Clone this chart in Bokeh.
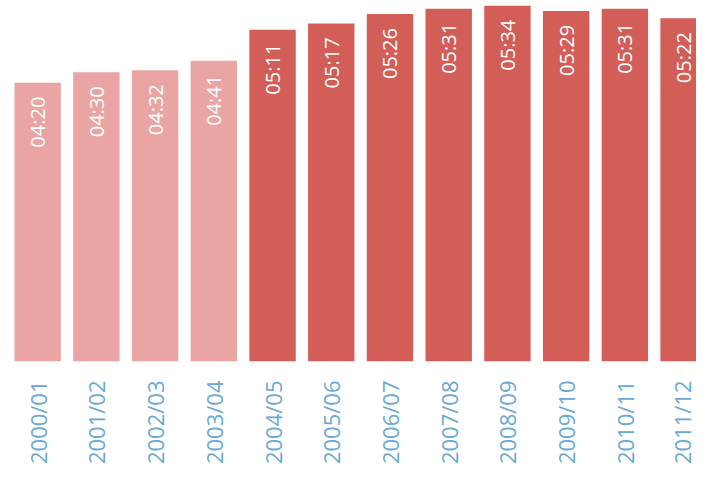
from bokeh.plotting import figure
from bokeh.models import ColumnDataSource, Range1d, FixedTicker
from bokeh.transform import factor_cmap
from bokeh.core.properties import value
from bokeh.embed import file_html
from bokeh.resources import INLINE
import math

seasons = ["2000/01", "2001/02", "2002/03", "2003/04", "2004/05", "2005/06",
           "2006/07", "2007/08", "2008/09", "2009/10", "2010/11", "2011/12"]
durations = ["04:20", "04:30", "04:32", "04:41", "05:11", "05:17",
             "05:26", "05:31", "05:34", "05:29", "05:31", "05:22"]
period = ["early", "early", "early", "early", "late", "late",
          "late", "late", "late", "late", "late", "late"]

minutes = [int(d.split(":")[0]) * 60 + int(d.split(":")[1]) for d in durations]
xs = list(range(len(seasons)))

Y_START, Y_END = -8, 339

src = ColumnDataSource(dict(x=xs, top=minutes, label=durations, period=period))

p = figure(width=696, height=467, output_backend="svg", toolbar_location=None,
           x_range=Range1d(-0.633, 11.22), y_range=Range1d(Y_START, Y_END),
           min_border_left=0, min_border_right=0, min_border_top=0,
           min_border_bottom=100)

p.vbar(x="x", top="top", bottom=Y_START, width=0.79, source=src,
       fill_color=factor_cmap("period", ["#eba4a4", "#d35d57"], ["early", "late"]),
       line_color=None)

p.text(x="x", y="top", text="label", source=src, angle=math.pi / 2,
       text_align="right", text_baseline="middle", y_offset=14,
       text_color="white", text_font=value("Open Sans"), text_font_size="20px")

p.xaxis.ticker = FixedTicker(ticks=xs)
p.xaxis.major_label_overrides = {i: s for i, s in zip(xs, seasons)}
p.xaxis.major_label_orientation = math.pi / 2
p.xaxis.major_label_text_font = "Open Sans"
p.xaxis.major_label_text_font_size = "22px"
p.xaxis.major_label_text_color = "#6aa9d2"
p.xaxis.major_label_standoff = 13
p.xaxis.axis_line_color = None
p.xaxis.major_tick_line_color = None
p.xaxis.minor_tick_line_color = None
p.yaxis.visible = False
p.xgrid.visible = False
p.ygrid.visible = False
p.outline_line_color = None
p.background_fill_color = "white"
p.border_fill_color = "white"

open("out.html", "w").write(file_html(p, INLINE))
